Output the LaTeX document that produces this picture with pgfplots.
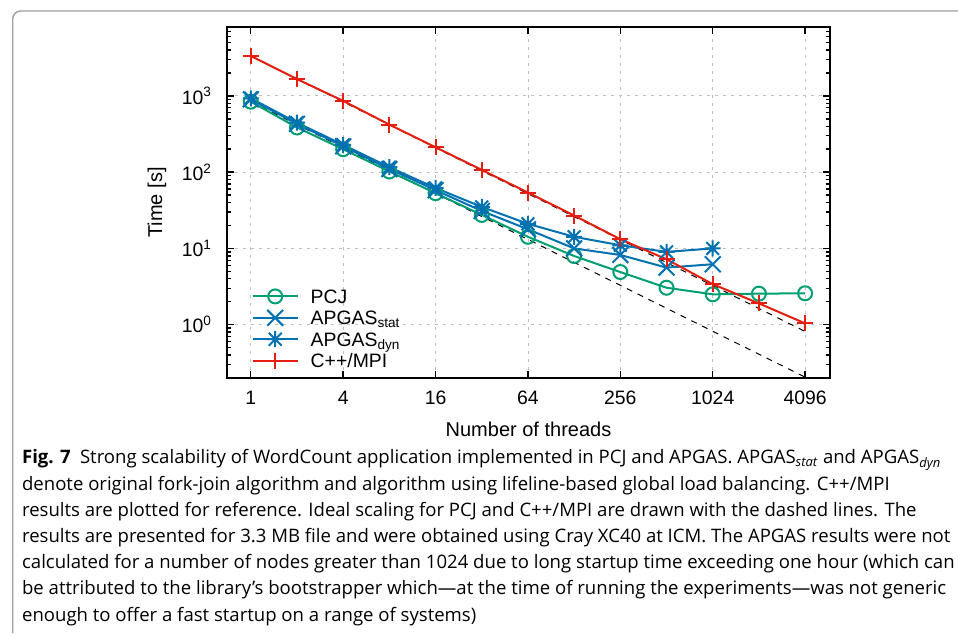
\documentclass[border=0pt]{standalone}
\usepackage{pgfplots}
\pgfplotsset{compat=1.18}
\usepackage{fontspec}
\setmainfont{Liberation Sans}
\newfontfamily\capfont[Ligatures=TeX]{Open Sans}

\definecolor{gpgreen}{RGB}{0,158,115}
\definecolor{gpblue}{RGB}{0,114,178}
\definecolor{gpred}{RGB}{229,30,16}

% gnuplot-like star: a plus and a cross on top of each other
\pgfdeclareplotmark{gpstar}{%
  \pgfpathmoveto{\pgfqpoint{-\pgfplotmarksize}{0pt}}%
  \pgfpathlineto{\pgfqpoint{\pgfplotmarksize}{0pt}}%
  \pgfpathmoveto{\pgfqpoint{0pt}{-\pgfplotmarksize}}%
  \pgfpathlineto{\pgfqpoint{0pt}{\pgfplotmarksize}}%
  \pgfpathmoveto{\pgfqpoint{-.8\pgfplotmarksize}{-.8\pgfplotmarksize}}%
  \pgfpathlineto{\pgfqpoint{.8\pgfplotmarksize}{.8\pgfplotmarksize}}%
  \pgfpathmoveto{\pgfqpoint{-.8\pgfplotmarksize}{.8\pgfplotmarksize}}%
  \pgfpathlineto{\pgfqpoint{.8\pgfplotmarksize}{-.8\pgfplotmarksize}}%
  \pgfusepathqstroke}

\newcommand{\chartfont}{\fontsize{9.7}{11}\selectfont}
\newcommand{\capsize}{\fontsize{9.28}{12}\selectfont}

\begin{document}
\begin{tikzpicture}
\path[use as bounding box] (0,0) rectangle (479pt,318pt);

% frame and caption, in pixel units of the reference
\begin{scope}[x=0.5pt,y=-0.5pt,yshift=318pt]
  \draw[gray!75, line width=0.7pt, rounded corners=4pt] (12.7,633) -- (12.7,11) -- (960,11);
  \begin{scope}[every node/.style={anchor=base west, inner sep=0pt, font=\capfont\capsize}]
    \node at (21.7,464.0) {{\bfseries Fig. 7}\hspace{0.5em}Strong scalability of WordCount application implemented in PCJ and APGAS. APGAS\textsubscript{\itshape stat} and APGAS\textsubscript{\itshape dyn}};
    \node at (21.7,490.2) {denote original fork-join algorithm and algorithm using lifeline-based global load balancing. C++/MPI};
    \node at (21.7,516.4) {results are plotted for reference. Ideal scaling for PCJ and C++/MPI are drawn with the dashed lines. The};
    \node at (21.7,542.6) {results are presented for 3.3 MB file and were obtained using Cray XC40 at ICM. The APGAS results were not};
    \node at (21.7,568.8) {calculated for a number of nodes greater than 1024 due to long startup time exceeding one hour (which can};
    \node at (21.7,595.0) {be attributed to the library’s bootstrapper which—at the time of running the experiments—was not generic};
    \node at (21.7,621.2) {enough to offer a fast startup on a range of systems)};
  \end{scope}
\end{scope}

\begin{axis}[
  at={(113.5pt,129pt)}, anchor=south west,
  scale only axis, width=301.5pt, height=175.5pt,
  xmode=log, ymode=log, log basis x=2,
  xmin=0.7, xmax=5950, ymin=0.2, ymax=8000,
  xtick={1,4,16,64,256,1024,4096},
  xticklabels={1,4,16,64,256,1024,4096},
  xminorticks=false,
  ytick={1,10,100,1000},
  yticklabels={10\textsuperscript{0},10\textsuperscript{1},10\textsuperscript{2},10\textsuperscript{3}},
  minor ytick={0.2,0.3,0.4,0.5,0.6,0.7,0.8,0.9,2,3,4,5,6,7,8,9,20,30,40,50,60,70,80,90,200,300,400,500,600,700,800,900,2000,3000,4000,5000,6000,7000,8000},
  grid=major,
  major grid style={gray!50, line width=0.4pt, dash pattern=on 1.5pt off 2.5pt},
  axis line style={line width=0.9pt},
  every tick/.style={black, line width=0.7pt},
  major tick length=3.5pt, minor tick length=2pt,
  tick label style={font=\chartfont},
  xticklabel style={yshift=-3pt},
  yticklabel style={xshift=-4pt},
  xlabel={Number of threads}, ylabel={Time [s]},
  label style={font=\chartfont},
  every axis x label/.style={at={(axis description cs:0.5,-0.145)}, anchor=center},
  every axis y label/.style={at={(axis description cs:-0.116,0.5)}, anchor=center, rotate=90},
  legend style={draw=none, fill=none, at={(0.041,0.019)}, anchor=south west,
    inner sep=0pt, outer sep=0pt, row sep=0pt, column sep=6pt, font=\chartfont,
    nodes={inner sep=0pt, text height=8.85pt, text depth=1.85pt}},
  legend cell align=left,
  legend image code/.code={
    \draw[mark repeat=2,mark phase=2,#1] plot coordinates {(0pt,0pt) (11.25pt,0pt) (22.5pt,0pt)};
  },
  every axis plot/.append style={line width=1pt},
]
% ideal scaling
\addplot[black, line width=0.5pt, dash pattern=on 3pt off 3pt, forget plot] coordinates {(1,840) (4096,0.205)};
\addplot[black, line width=0.5pt, dash pattern=on 3pt off 3pt, forget plot] coordinates {(1,3340) (4096,0.815)};

\addplot[gpgreen, mark=o, mark size=3.5pt] coordinates {
  (1,840) (2,385) (4,200) (8,102) (16,53) (32,27.5) (64,14.2) (128,7.95)
  (256,4.9) (512,3.05) (1024,2.5) (2048,2.55) (4096,2.58)};
\addlegendentry{PCJ}

\addplot[gpblue, mark=x, mark size=5.6pt] coordinates {
  (1,900) (2,430) (4,218) (8,110) (16,58) (32,31) (64,17.8) (128,10.0)
  (256,8.2) (512,5.6) (1024,6.2)};
\addlegendentry{APGAS\textsubscript{stat}}

\addplot[gpblue, mark=gpstar, mark size=4pt] coordinates {
  (1,930) (2,445) (4,228) (8,116) (16,62) (32,35) (64,21) (128,14.2)
  (256,11.0) (512,9.0) (1024,10.0)};
\addlegendentry{APGAS\textsubscript{dyn}}

\addplot[gpred, mark=+, mark size=4pt] coordinates {
  (1,3340) (2,1660) (4,860) (8,420) (16,212) (32,107) (64,54) (128,27)
  (256,13.2) (512,7.2) (1024,3.4) (2048,1.9) (4096,1.04)};
\addlegendentry{C++/MPI}
\end{axis}
\end{tikzpicture}
\end{document}
